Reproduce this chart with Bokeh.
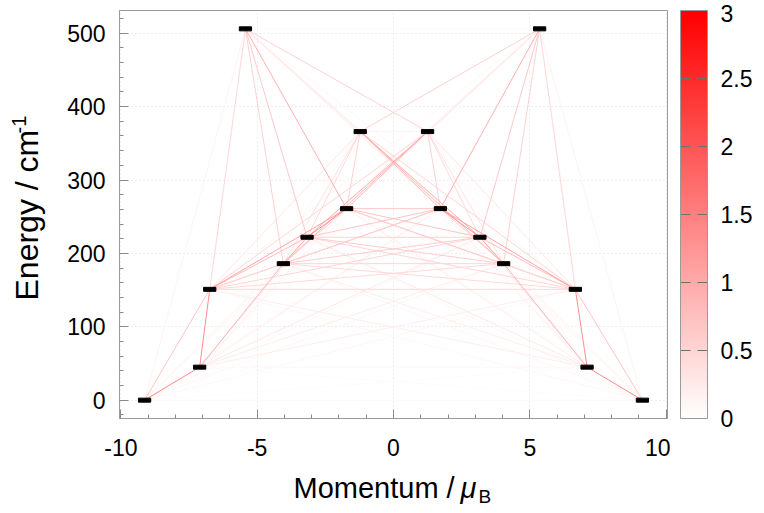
import numpy as np
from bokeh.plotting import figure
from bokeh.layouts import row, column
from bokeh.models import (ColumnDataSource, LinearColorMapper, Label, Range1d,
                          SingleIntervalTicker)
from bokeh.core.properties import value
from bokeh.transform import transform
from bokeh.embed import file_html
from bokeh.resources import INLINE

FONT = "Liberation Sans"

# ---- data ----
level_energy = [0, 45, 151, 186, 222, 261, 366, 506]
momentum_neg = [-9.13, -7.11, -6.74, -4.04, -3.17, -1.72, -1.22, -5.43]
momentum_pos = [9.13, 7.10, 6.67, 4.04, 3.17, 1.72, 1.25, 5.36]

# transition strength between levels on the same side (row i: i -> i+1 .. 7)
same_side = [
    [1.40, 0.70, 0.12, 0.10, 0.08, 0.05, 0.15],
    [1.30, 0.90, 0.30, 0.20, 0.10, 0.12],
    [0.50, 0.80, 1.10, 0.30, 0.45],
    [1.10, 0.55, 0.35, 0.55],
    [1.30, 0.45, 0.65],
    [0.55, 0.95],
    [0.30],
]
# transition strength across sides (row i: i -> i .. 7)
cross_side = [
    [0.04, 0.05, 0.10, 0.10, 0.10, 0.10, 0.05, 0.03],
    [0.10, 0.20, 0.22, 0.28, 0.22, 0.10, 0.05],
    [0.45, 0.45, 0.50, 0.55, 0.50, 0.10],
    [0.50, 0.60, 0.60, 0.85, 0.12],
    [0.55, 0.70, 0.95, 0.15],
    [0.65, 0.75, 0.20],
    [0.15, 0.55],
    [0.05],
]
x_ticks = [-10, -5, 0, 5, 10]
x_tick_labels = ["-10", "-5", "0", "5", "10"]
cbar_ticks = [0, 0.5, 1, 1.5, 2, 2.5, 3]
cbar_labels = ["0", "0.5", "1", "1.5", "2", "2.5", "3"]

# ---- build transition segments ----
x0, y0, x1, y1, val = [], [], [], [], []
n = len(level_energy)
for i in range(n):
    if i < len(same_side):
        for k, v in enumerate(same_side[i]):
            j = i + 1 + k
            for side in (momentum_neg, momentum_pos):
                x0.append(side[i]); y0.append(level_energy[i])
                x1.append(side[j]); y1.append(level_energy[j]); val.append(v)
    for k, v in enumerate(cross_side[i]):
        j = i + k
        pairs = [(momentum_neg[i], momentum_pos[j])]
        if j != i:
            pairs.append((momentum_pos[i], momentum_neg[j]))
        for a, b in pairs:
            x0.append(a); y0.append(level_energy[i])
            x1.append(b); y1.append(level_energy[j]); val.append(v)
order = np.argsort(val, kind="stable")
seg = ColumnDataSource(dict(x0=np.array(x0)[order], y0=np.array(y0)[order],
                            x1=np.array(x1)[order], y1=np.array(y1)[order],
                            v=np.array(val)[order]))

palette = ["#ff%02x%02x" % (c, c) for c in np.linspace(255, 0, 256).round().astype(int)]
mapper = LinearColorMapper(palette=palette, low=0, high=3)

# ---- layout geometry (pixels) ----
W, H = 764, 513
LEFT_STRIP = 50
FRAME_L, FRAME_R, FRAME_T, FRAME_B = 119, 667, 10, 418
XT_H = 43
MAIN_W = FRAME_R + 3 - LEFT_STRIP
MAIN_H = H - XT_H
CB_W = W - LEFT_STRIP - MAIN_W
BAR_L, BAR_W = 680, 27
MID = 0.3465  # em offset between alphabetic baseline and middle anchor


def blank(width, height, xr, yr, left=0, right=0):
    f = figure(width=width, height=height, x_range=xr, y_range=yr,
               output_backend="svg", toolbar_location=None,
               x_axis_location=None, y_axis_location=None,
               min_border_left=left, min_border_right=right,
               min_border_top=0, min_border_bottom=0)
    f.grid.visible = False
    f.outline_line_color = None
    return f


# ---- main figure ----
p = figure(width=MAIN_W, height=MAIN_H, x_range=Range1d(-10.05, 10.05), y_range=Range1d(-25, 531),
           output_backend="svg", toolbar_location=None,
           min_border_left=FRAME_L - LEFT_STRIP, min_border_right=3,
           min_border_top=FRAME_T, min_border_bottom=MAIN_H - FRAME_B)
p.segment(x0="x0", y0="y0", x1="x1", y1="y1", source=seg,
          line_color=transform("v", mapper), line_width=1)

lev = ColumnDataSource(dict(x=momentum_neg + momentum_pos, y=level_energy + level_energy))
p.rect(x="x", y="y", width=0.45, height=4, height_units="screen", source=lev,
       fill_color="black", line_color="black")

p.xaxis.ticker = SingleIntervalTicker(interval=5, num_minor_ticks=5)
p.yaxis.ticker = SingleIntervalTicker(interval=100, num_minor_ticks=5)
p.xaxis.major_label_overrides = dict(zip(x_ticks, x_tick_labels))
for ax in (p.xaxis[0], p.yaxis[0]):
    ax.major_tick_in = 9
    ax.major_tick_out = 0
    ax.minor_tick_in = 4
    ax.minor_tick_out = 0
    ax.major_tick_line_color = "#8a8a8a"
    ax.minor_tick_line_color = "#8a8a8a"
    ax.axis_line_color = "#9a9a9a"
    ax.major_label_text_font = FONT
    ax.major_label_text_font_size = "23px"
    ax.major_label_text_color = "black"
p.xaxis.major_label_standoff = 20
p.yaxis.major_label_standoff = 14
p.outline_line_color = "#9a9a9a"
p.grid.grid_line_color = "#dcdcdc"
p.grid.grid_line_dash = "1 3"

# ---- y-axis title strip (rotated text, superscript) ----
ys = blank(LEFT_STRIP, H, Range1d(0, LEFT_STRIP), Range1d(0, H))
ys.add_layout(Label(x=38 - MID * 32, y=H - 300, x_units="screen", y_units="screen",
                    text="Energy / cm", angle=90, angle_units="deg", text_font=FONT,
                    text_font_size="32px", text_color="black",
                    text_baseline="middle", text_align="left"))
ys.add_layout(Label(x=25 - MID * 20, y=H - 133, x_units="screen", y_units="screen",
                    text="-1", angle=90, angle_units="deg", text_font=FONT,
                    text_font_size="20px", text_color="black",
                    text_baseline="middle", text_align="left"))

# ---- x-axis title strip ----
xs = blank(MAIN_W, XT_H, Range1d(0, 1), Range1d(0, XT_H),
           left=FRAME_L - LEFT_STRIP, right=3)
xs.add_layout(Label(x=293 - FRAME_L, y=H - 498 + MID * 29, x_units="screen", y_units="screen",
                    text="Momentum / ", text_font=FONT, text_font_size="29px",
                    text_color="black", text_baseline="middle", text_align="left"))
xs.add_layout(Label(x=460 - FRAME_L, y=H - 498 + MID * 29, x_units="screen", y_units="screen",
                    text="μ", text_font=FONT, text_font_size="29px", text_font_style="italic",
                    text_color="black", text_baseline="middle", text_align="left"))
xs.add_layout(Label(x=478 - FRAME_L, y=H - 503 + MID * 19, x_units="screen", y_units="screen",
                    text="B", text_font=FONT, text_font_size="19px",
                    text_color="black", text_baseline="middle", text_align="left"))

# ---- colour bar ----
cb_x0 = LEFT_STRIP + MAIN_W
px_per_unit = (FRAME_B - FRAME_T) / 3.0
cb = blank(CB_W, H,
           Range1d(-(BAR_L - cb_x0) / BAR_W, (W - BAR_L) / BAR_W),
           Range1d(-(H - FRAME_B) / px_per_unit, 3 + FRAME_T / px_per_unit))
grad = np.linspace(0, 3, 256).reshape(256, 1)
cb.image(image=[grad], x=0, y=0, dw=1, dh=3, color_mapper=mapper)
inner = cbar_ticks[1:-1]
cb.segment(x0=[0] * len(inner), y0=inner, x1=[1] * len(inner), y1=inner,
           line_color="#707070", line_width=1, line_dash="10 7")
cb.rect(x=0.5, y=1.5, width=1, height=3, fill_color=None, line_color="#9a9a9a", line_width=1)
lab_off = [3 if t == max(cbar_ticks) else 0 for t in cbar_ticks]
cb.text(x=[1] * len(cbar_ticks), y=cbar_ticks, text=cbar_labels, x_offset=13, y_offset=lab_off,
        text_font=value(FONT), text_font_size=value("23px"), text_color="black",
        text_baseline="middle", text_align="left")

layout = row(ys, column(p, xs), cb)
open("out.html", "w").write(file_html(layout, INLINE))
